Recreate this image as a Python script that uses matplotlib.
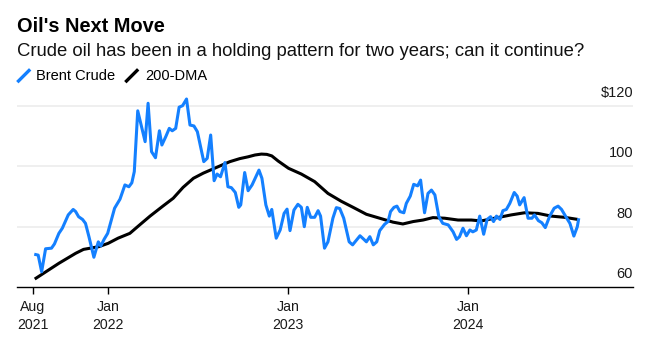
import matplotlib
matplotlib.use("Agg")
import matplotlib.pyplot as plt
from matplotlib.lines import Line2D
import pandas as pd

plt.rcParams['font.family'] = ['Liberation Sans', 'DejaVu Sans']

# Brent Crude (weekly-ish points)
brent_dates = [
    "2021-08-04", "2021-08-12", "2021-08-19", "2021-08-27", "2021-09-08", "2021-09-14",
    "2021-09-23", "2021-09-30", "2021-10-12", "2021-10-22", "2021-10-27", "2021-11-02",
    "2021-11-10", "2021-11-16", "2021-11-23", "2021-12-03", "2021-12-12", "2021-12-17",
    "2021-12-24", "2021-12-31", "2022-01-07", "2022-01-14", "2022-01-25", "2022-02-04",
    "2022-02-12", "2022-02-18", "2022-02-23", "2022-03-02", "2022-03-17", "2022-03-23",
    "2022-03-30", "2022-04-07", "2022-04-15", "2022-04-20", "2022-04-28", "2022-05-05",
    "2022-05-11", "2022-05-18", "2022-05-25", "2022-06-01", "2022-06-09", "2022-06-16",
    "2022-06-24", "2022-07-01", "2022-07-14", "2022-07-21", "2022-07-28", "2022-08-04",
    "2022-08-10", "2022-08-17", "2022-08-26", "2022-09-01", "2022-09-08", "2022-09-16",
    "2022-09-23", "2022-09-27", "2022-10-05", "2022-10-12", "2022-10-20", "2022-11-03",
    "2022-11-09", "2022-11-17", "2022-11-24", "2022-11-29", "2022-12-08", "2022-12-16",
    "2022-12-24", "2022-12-30", "2023-01-05", "2023-01-13", "2023-01-21", "2023-01-28",
    "2023-02-03", "2023-02-09", "2023-02-16", "2023-02-24", "2023-03-03", "2023-03-08",
    "2023-03-16", "2023-03-23", "2023-04-02", "2023-04-09", "2023-04-16", "2023-04-24",
    "2023-04-28", "2023-05-05", "2023-05-12", "2023-05-20", "2023-05-27", "2023-06-04",
    "2023-06-09", "2023-06-16", "2023-06-23", "2023-06-30", "2023-07-06", "2023-07-16",
    "2023-07-23", "2023-07-28", "2023-08-04", "2023-08-10", "2023-08-16", "2023-08-24",
    "2023-08-29", "2023-09-06", "2023-09-13", "2023-09-21", "2023-09-27", "2023-10-05",
    "2023-10-12", "2023-10-19", "2023-10-26", "2023-11-03", "2023-11-11", "2023-11-22",
    "2023-12-02", "2023-12-09", "2023-12-15", "2023-12-22", "2023-12-29", "2024-01-05",
    "2024-01-11", "2024-01-18", "2024-01-25", "2024-02-02", "2024-02-09", "2024-02-16",
    "2024-02-22", "2024-02-28", "2024-03-06", "2024-03-12", "2024-03-19", "2024-03-26",
    "2024-04-04", "2024-04-10", "2024-04-15", "2024-04-24", "2024-05-02", "2024-05-10",
    "2024-05-15", "2024-05-23", "2024-05-30", "2024-06-06", "2024-06-15", "2024-06-24",
    "2024-07-02", "2024-07-09", "2024-07-17", "2024-07-26", "2024-08-03", "2024-08-10",
    "2024-08-13",
]
brent_values = [
    70.9, 70.6, 65.1, 72.7, 72.9, 74.3,
    77.8, 79.5, 83.9, 85.7, 85.0, 83.3,
    82.4, 81.1, 76.7, 69.9, 75.0, 73.6,
    75.9, 77.8, 81.9, 86.1, 89.1, 93.8,
    93.2, 94.5, 98.2, 118.3, 108.1, 120.8,
    104.8, 102.8, 111.7, 107.0, 109.8, 112.5,
    111.7, 112.5, 119.5, 120.0, 122.2, 113.6,
    113.3, 111.4, 101.5, 102.6, 110.3, 95.2,
    97.4, 96.5, 101.2, 93.2, 92.9, 91.3,
    86.4, 87.2, 97.9, 91.9, 93.8, 98.7,
    96.0, 87.2, 83.5, 85.7, 76.2, 78.9,
    84.4, 85.8, 78.7, 85.5, 87.4, 86.4,
    80.0, 86.4, 83.1, 83.1, 85.3, 83.5,
    72.9, 75.0, 82.8, 86.3, 86.0, 82.8,
    80.0, 75.0, 74.0, 75.6, 77.0, 75.8,
    75.0, 76.7, 74.0, 75.0, 78.7, 80.8,
    81.7, 85.0, 86.4, 86.8, 85.0, 84.6,
    87.7, 90.1, 94.0, 93.5, 95.4, 84.6,
    91.0, 92.1, 90.5, 83.3, 81.1, 80.6,
    78.3, 75.8, 76.7, 79.5, 77.0, 78.9,
    78.3, 78.9, 83.5, 77.5, 82.4, 83.3,
    81.7, 83.5, 82.4, 85.3, 85.7, 87.7,
    91.3, 90.1, 87.2, 89.6, 82.8, 82.8,
    83.9, 82.0, 81.3, 79.7, 83.5, 86.1,
    86.8, 85.7, 83.5, 81.1, 76.9, 80.0,
    82.8,
]

# 200-day moving average
dma_dates = [
    "2021-08-05", "2021-09-23", "2021-10-27", "2021-11-12", "2021-12-13", "2022-01-01",
    "2022-01-21", "2022-02-14", "2022-03-06", "2022-03-27", "2022-04-22", "2022-05-13",
    "2022-06-02", "2022-06-23", "2022-07-13", "2022-08-09", "2022-09-05", "2022-09-25",
    "2022-10-12", "2022-10-26", "2022-11-08", "2022-11-19", "2022-11-29", "2022-12-12",
    "2023-01-02", "2023-01-28", "2023-02-24", "2023-03-23", "2023-04-19", "2023-05-13",
    "2023-06-09", "2023-07-06", "2023-08-02", "2023-08-22", "2023-09-12", "2023-10-02",
    "2023-10-22", "2023-11-15", "2023-12-12", "2024-01-08", "2024-01-28", "2024-02-24",
    "2024-03-29", "2024-04-25", "2024-05-22", "2024-06-18", "2024-07-15", "2024-08-11",
]
dma_values = [
    62.7, 67.9, 71.2, 72.5, 73.4, 74.5,
    76.2, 77.8, 80.6, 83.5, 86.8, 89.4,
    93.0, 96.0, 97.7, 99.6, 101.5, 102.5,
    103.1, 103.7, 104.0, 103.9, 103.4, 101.7,
    99.3, 97.4, 94.9, 91.0, 88.4, 86.4,
    84.1, 82.8, 81.5, 80.9, 81.7, 82.2,
    83.0, 82.8, 82.2, 82.2, 81.9, 82.8,
    83.9, 84.6, 84.4, 83.5, 83.1, 82.4,
]

tick_dates = ["2021-08-01", "2022-01-01", "2023-01-01", "2024-01-01"]
tick_labels = ["Aug\n2021", "Jan\n2022", "Jan\n2023", "Jan\n2024"]
y_ticks = [60, 80, 100, 120]
y_labels = ["60", "80", "100", "$120"]

blue = '#1480ff'
W, H = 659, 342

fig = plt.figure(figsize=(W / 100, H / 100), dpi=100)
# axes in pixel terms: left 17, right 633, bottom 287, top ~97
ax = fig.add_axes([17 / W, (H - 287.2) / H, 616 / W, 190.6 / H])

ax.plot(pd.to_datetime(dma_dates), dma_values, color='black', lw=2.2,
        solid_capstyle='butt', solid_joinstyle='round', zorder=3)
ax.plot(pd.to_datetime(brent_dates), brent_values, color=blue, lw=2.2,
        solid_capstyle='butt', solid_joinstyle='round', zorder=4)

ax.set_xlim(pd.Timestamp("2021-06-30"), pd.Timestamp("2024-12-01"))
ax.set_ylim(60, 123)

# gridlines, with the value labels sitting above them on the right
for v in y_ticks[1:]:
    ax.axhline(v, color='#ebebeb', lw=1.1, zorder=1)
ax.set_yticks([])
for v, lab in zip(y_ticks, y_labels):
    ax.annotate(lab, xy=(1, v), xycoords=('axes fraction', 'data'),
                xytext=(0, 6.3), textcoords='offset points',
                ha='right', va='baseline', fontsize=10.5, color='#1a1a1a')

for s in ['top', 'right', 'left']:
    ax.spines[s].set_visible(False)
ax.spines['bottom'].set_color('black')
ax.spines['bottom'].set_linewidth(1.0)

ax.set_xticks(pd.to_datetime(tick_dates))
ax.set_xticklabels(tick_labels, fontsize=10.2, color='#1a1a1a', linespacing=1.4)
ax.tick_params(axis='x', length=5, width=1, color='black', pad=4)

# title, subtitle
fig.text(17 / W, 1 - 31.5 / H, "Oil's Next Move", fontsize=14.4, fontweight='bold',
         ha='left', va='baseline')
fig.text(17 / W, 1 - 56 / H, "Crude oil has been in a holding pattern for two years; can it continue?",
         fontsize=13.3, ha='left', va='baseline', color='#111111')

# legend with slanted line markers
fig.add_artist(Line2D([18.5 / W, 29 / W], [1 - 81 / H, 1 - 70.5 / H], color=blue, lw=2.4))
fig.text(36.5 / W, 1 - 80 / H, "Brent Crude", fontsize=10.5, ha='left', va='baseline')
fig.add_artist(Line2D([126.5 / W, 137 / W], [1 - 81 / H, 1 - 70.5 / H], color='black', lw=2.4))
fig.text(145 / W, 1 - 80 / H, "200-DMA", fontsize=10.5, ha='left', va='baseline')

fig.savefig("out.png", dpi=100)
